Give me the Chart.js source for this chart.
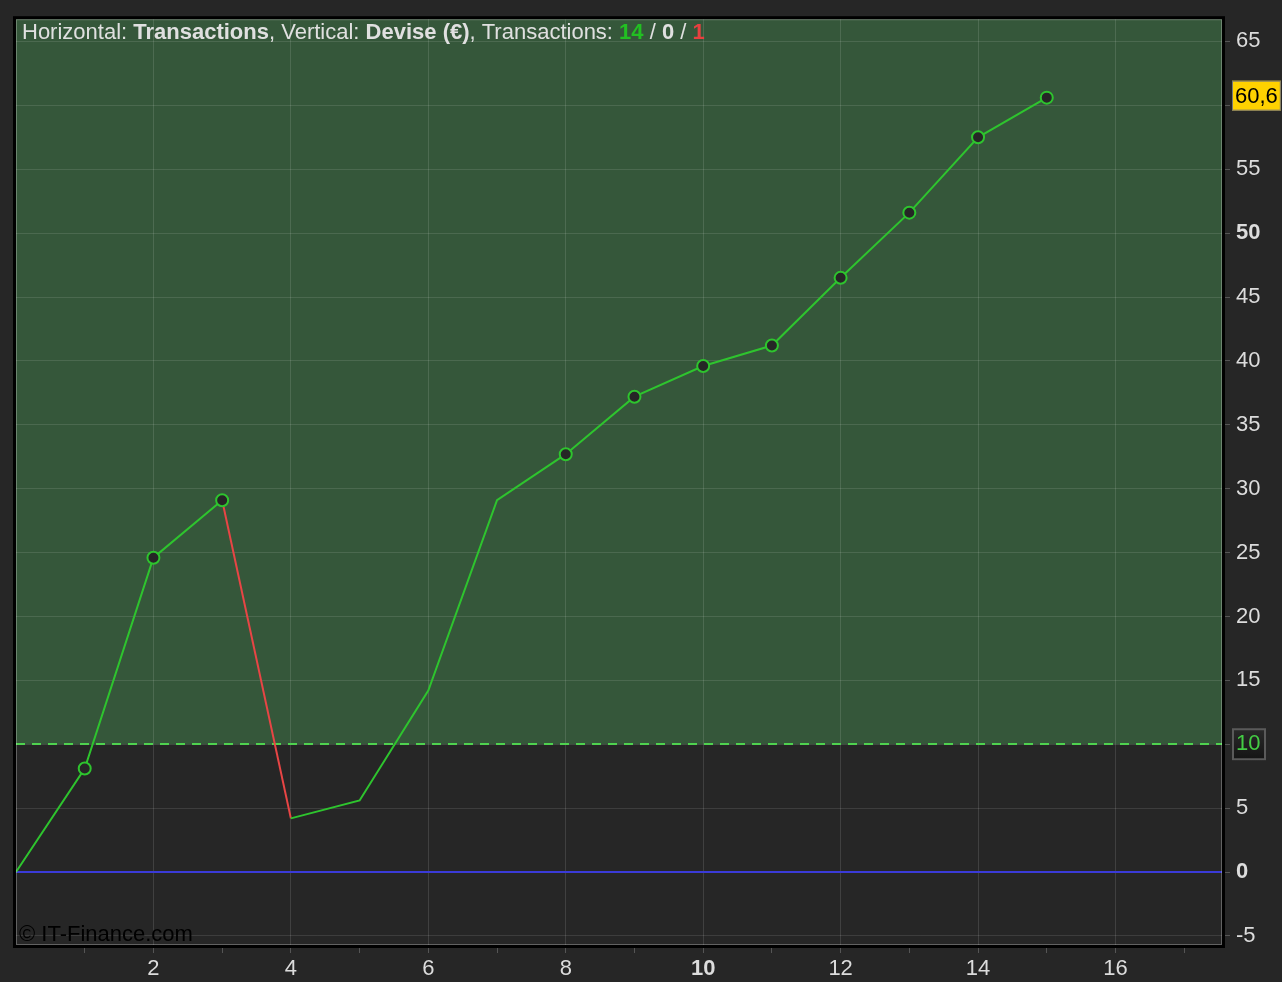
<!DOCTYPE html>
<html>
<head>
<meta charset="utf-8">
<script src="https://cdn.jsdelivr.net/npm/chart.js@4/dist/chart.umd.min.js"></script>
<style>
  html,body{margin:0;padding:0;background:#262626;}
  canvas{display:block;}
</style>
</head>
<body>
<canvas id="c" width="1282" height="982"></canvas>
<script>
// ---- data ----
const tradeIndex = [0,1,2,3,4,5,6,7,8,9,10,11,12,13,14,15];
const equity     = [0,8.1,24.6,29.1,4.2,5.6,14.2,29.1,32.7,37.2,39.6,41.2,46.5,51.6,57.5,60.6];
const showMarker = [0,1,1,1,0,0,0,0,1,1,1,1,1,1,1,1];
const losingSegments = [3];          // segment from trade 3 to 4 is a loss
const thresholdLevel = 10;
const lastValueLabel = '60,6';
const xBoldTicks = [10];
const yBoldTicks = [0,50];
const headerParts = [
  ['Horizontal: ', 'normal', '#e0e0e0'],
  ['Transactions', 'bold', '#e0e0e0'],
  [', Vertical: ', 'normal', '#e0e0e0'],
  ['Devise (€)', 'bold', '#e0e0e0'],
  [', Transactions: ', 'normal', '#e0e0e0'],
  ['14', 'bold', '#22c022'],
  [' / ', 'normal', '#e0e0e0'],
  ['0', 'bold', '#e0e0e0'],
  [' / ', 'normal', '#e0e0e0'],
  ['1', 'bold', '#e84040']
];
const watermark = '© IT-Finance.com';

const FONT = '"Liberation Sans", Arial, sans-serif';
const FS = 22;
const GREEN = '#2ec42e';
const RED = '#e84545';

const points = tradeIndex.map((x,i)=>({x:x, y:equity[i]}));

const decor = {
  id:'decor',
  beforeDraw(chart){
    const {ctx, chartArea:a, scales:{y}} = chart;
    ctx.save();
    ctx.fillStyle = '#262626';
    ctx.fillRect(0,0,chart.width,chart.height);
    const y10 = y.getPixelForValue(thresholdLevel);
    ctx.fillStyle = '#35573a';
    ctx.fillRect(a.left, a.top, a.right-a.left, y10-a.top);
    // box behind the "10" tick label
    const bx = a.right+10, by = y10-16, bw = 34, bh = 32;
    const g = ctx.createLinearGradient(0,by,0,by+bh);
    g.addColorStop(0,'#2a2a2a'); g.addColorStop(1,'#141414');
    ctx.fillStyle = g;
    ctx.fillRect(bx,by,bw,bh);
    ctx.strokeStyle = '#5a5a5a'; ctx.lineWidth = 2;
    ctx.strokeRect(bx+1,by+1,bw-2,bh-2);
    ctx.restore();
  },
  beforeDatasetsDraw(chart){
    const {ctx, chartArea:a, scales:{y}} = chart;
    ctx.save();
    const y10 = Math.round(y.getPixelForValue(thresholdLevel));
    ctx.strokeStyle = '#4fd24f'; ctx.lineWidth = 2; ctx.setLineDash([9,7]);
    ctx.beginPath(); ctx.moveTo(a.left, y10); ctx.lineTo(a.right, y10); ctx.stroke();
    ctx.setLineDash([]);
    const y0 = Math.round(y.getPixelForValue(0));
    ctx.strokeStyle = '#3a3ad8'; ctx.lineWidth = 2;
    ctx.beginPath(); ctx.moveTo(a.left, y0); ctx.lineTo(a.right, y0); ctx.stroke();
    ctx.restore();
  },
  afterDraw(chart){
    const {ctx, chartArea:a, scales:{y}} = chart;
    ctx.save();
    // frame
    ctx.strokeStyle = '#000'; ctx.lineWidth = 3;
    ctx.strokeRect(a.left-1.5, a.top-1.5, a.right-a.left+3, a.bottom-a.top+3);
    ctx.strokeStyle = 'rgba(255,255,255,0.28)'; ctx.lineWidth = 1;
    ctx.strokeRect(a.left+0.5, a.top+0.5, a.right-a.left-1, a.bottom-a.top-1);
    // header
    ctx.textBaseline = 'middle';
    let x = a.left + 6;
    for (const [t,w,c] of headerParts){
      ctx.font = w + ' ' + FS + 'px ' + FONT;
      ctx.fillStyle = c;
      ctx.fillText(t, x, a.top + 14);
      x += ctx.measureText(t).width;
    }
    // watermark
    ctx.font = FS + 'px ' + FONT;
    ctx.fillStyle = '#000';
    ctx.fillText(watermark, a.left + 3, a.bottom - 10);
    // last value label
    const yl = y.getPixelForValue(equity[equity.length-1]);
    const bx = a.right+10, bh = 30, by = yl-17;
    ctx.font = FS + 'px ' + FONT;
    const bw = ctx.measureText(lastValueLabel).width + 6;
    ctx.fillStyle = '#ffd200';
    ctx.fillRect(bx, by, bw, bh);
    ctx.strokeStyle = '#777'; ctx.lineWidth = 1;
    ctx.strokeRect(bx+0.5, by+0.5, bw-1, bh-1);
    ctx.fillStyle = '#000';
    ctx.fillText(lastValueLabel, bx+3, by + bh/2 + 1);
    ctx.restore();
  }
};

new Chart(document.getElementById('c'), {
  type:'line',
  data:{
    datasets:[{
      data: points,
      borderColor: GREEN,
      borderWidth: 2,
      tension: 0,
      fill: false,
      segment:{
        borderColor: c => losingSegments.includes(c.p0DataIndex) ? RED : GREEN
      },
      pointRadius: showMarker.map(m => m ? 6 : 0),
      pointBorderWidth: 2,
      pointBorderColor: GREEN,
      pointBackgroundColor: '#262626'
    }]
  },
  options:{
    responsive:false,
    devicePixelRatio:1,
    animation:false,
    events:[],
    layout:{padding:{left:16, top:19, right:0, bottom:0}},
    plugins:{legend:{display:false}, tooltip:{enabled:false}},
    scales:{
      x:{
        type:'linear',
        min:0, max:17.55,
        afterFit: s => { s.height = 37; },
        border:{display:false},
        grid:{
          color: c => (c.tick && Number.isInteger(c.tick.value) && c.tick.value%2===0 && c.tick.value>0) ? 'rgba(255,255,255,0.12)' : 'rgba(0,0,0,0)',
          tickColor: c => (c.tick && Number.isInteger(c.tick.value) && c.tick.value>0) ? '#555' : 'rgba(0,0,0,0)',
          tickLength: 8,
          drawTicks:true
        },
        ticks:{
          stepSize:1,
          includeBounds:false,
          autoSkip:false,
          maxRotation:0,
          padding:3,
          color:'#dcdcdc',
          font: c => ({family:FONT, size:FS, weight: (c.tick && xBoldTicks.includes(c.tick.value)) ? 'bold' : 'normal'}),
          callback: v => (Number.isInteger(v) && v%2===0 && v>0) ? String(v) : ''
        }
      },
      y:{
        type:'linear',
        position:'right',
        min:-5.71, max:66.74,
        afterFit: s => { s.width = 60; },
        border:{display:false},
        grid:{
          color: c => (c.tick && Number.isInteger(c.tick.value) && c.tick.value%5===0) ? 'rgba(255,255,255,0.11)' : 'rgba(0,0,0,0)',
          tickColor: c => (c.tick && Number.isInteger(c.tick.value) && c.tick.value%5===0) ? '#555' : 'rgba(0,0,0,0)',
          tickLength: 8
        },
        ticks:{
          stepSize:5,
          includeBounds:false,
          autoSkip:false,
          padding:6,
          color: c => (c.tick && c.tick.value===thresholdLevel) ? '#44cc44' : '#dcdcdc',
          font: c => ({family:FONT, size:FS, weight: (c.tick && yBoldTicks.includes(c.tick.value)) ? 'bold' : 'normal'}),
          callback: v => (Number.isInteger(v) && v%5===0 && v!==60) ? String(v) : ''
        }
      }
    }
  },
  plugins:[decor]
});
</script>
</body>
</html>
